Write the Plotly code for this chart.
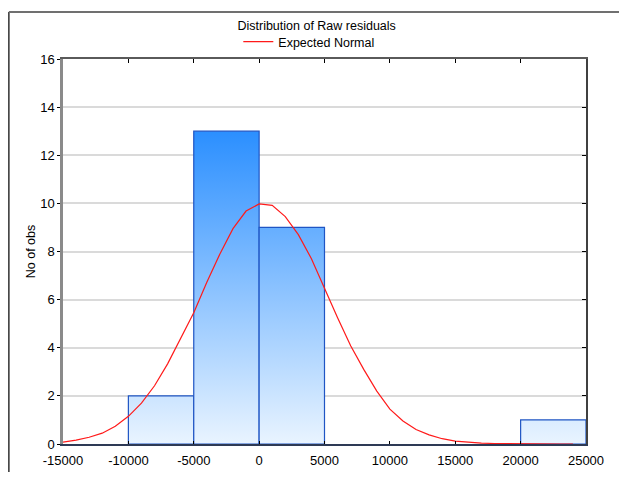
import plotly.graph_objects as go

# ---- data ----
bin_left = [-10000, -5000, 0, 5000, 10000, 15000, 20000]
bin_right = [-5000, 0, 5000, 10000, 15000, 20000, 25000]
counts = [2, 13, 9, 0, 0, 0, 1]

curve_x = [-15000, -14000, -13000, -12000, -11000, -10000, -9000, -8000, -7000, -6000,
           -5000, -4000, -3000, -2000, -1000, 0, 1000, 2000, 3000, 4000,
           5000, 6000, 7000, 8000, 9000, 10000, 11000, 12000, 13000, 14000,
           15000, 16000, 17000, 18000, 19000, 20000, 21000, 22000, 23000, 24000]
curve_y = [0.08, 0.16, 0.28, 0.45, 0.74, 1.15, 1.7, 2.42, 3.33, 4.38,
           5.45, 6.72, 7.9, 8.95, 9.68, 9.98, 9.92, 9.45, 8.7, 7.7,
           6.45, 5.25, 4.08, 3.1, 2.2, 1.45, 0.96, 0.6, 0.38, 0.22,
           0.12, 0.07, 0.04, 0.02, 0.01, 0.005, 0.002, 0.001, 0.0, 0.0]

x_ticks = [-15000, -10000, -5000, 0, 5000, 10000, 15000, 20000, 25000]
y_ticks = [0, 2, 4, 6, 8, 10, 12, 14, 16]

FONT = "Liberation Sans, Arial, sans-serif"

fig = go.Figure()

for l, r, c in zip(bin_left, bin_right, counts):
    if c <= 0:
        continue
    fig.add_trace(go.Scatter(
        x=[l, l, r, r, l], y=[0, c, c, 0, 0],
        mode="lines", fill="toself",
        fillgradient=dict(type="vertical",
                          colorscale=[[0, "#e9f4ff"], [1, "#2b8fff"]],
                          start=0, stop=13),
        line=dict(color="#1f55c4", width=1.2),
        showlegend=False, hoverinfo="skip",
    ))

fig.add_trace(go.Scatter(
    x=curve_x, y=curve_y, mode="lines", name="Expected Normal",
    line=dict(color="#ff1a1a", width=1.2),
))

# invisible trace to activate secondary axes
fig.add_trace(go.Scatter(x=[x_ticks[0]], y=[y_ticks[0]], xaxis="x2", yaxis="y2",
                         mode="markers", marker=dict(opacity=0), showlegend=False,
                         hoverinfo="skip"))

fig.update_layout(
    width=611, height=464,
    margin=dict(l=55, r=32.5, t=51, b=28, autoexpand=False),
    paper_bgcolor="white", plot_bgcolor="white",
    font=dict(family=FONT, size=12.5, color="black"),
    title=dict(text="Distribution of Raw residuals", x=0.485, xref="paper",
               xanchor="center", y=1 - 17.5 / 464, yref="container",
               yanchor="middle", font=dict(size=12.5, family=FONT, color="black")),
    legend=dict(orientation="h", x=0.47, xanchor="center", y=1.044,
                yanchor="middle", bgcolor="rgba(0,0,0,0)",
                font=dict(size=12.5, family=FONT), itemwidth=30),
    xaxis=dict(range=[-15000, 25000], tickvals=x_ticks,
               ticktext=[str(v) for v in x_ticks],
               ticks="inside", ticklen=3, tickcolor="black",
               showline=True, linecolor="#2e3a55", linewidth=2,
               showgrid=False, zeroline=False, ticklabelstandoff=3,
               tickfont=dict(size=13, family=FONT)),
    xaxis2=dict(range=[-15000, 25000], tickvals=x_ticks, overlaying="x",
                side="top", ticks="inside", ticklen=4, tickcolor="black",
                showticklabels=False, showline=True, linecolor="#5a5a5a",
                linewidth=2, showgrid=False, zeroline=False),
    yaxis=dict(range=[0, 16], tickvals=y_ticks, ticks="outside", ticklen=3,
               tickcolor="black", showline=True, linecolor="#8a8a8a", linewidth=2.5,
               showgrid=True, gridcolor="#dadada", gridwidth=1.5, zeroline=False,
               title=dict(text="No of obs", standoff=2, font=dict(size=12.5, family=FONT)),
               tickfont=dict(size=13, family=FONT)),
    yaxis2=dict(range=[0, 16], tickvals=y_ticks, overlaying="y", side="right",
                ticks="inside", ticklen=4, tickcolor="black", showticklabels=False,
                showline=True, linecolor="#404040", linewidth=1.5,
                showgrid=False, zeroline=False),
    shapes=[
        dict(type="line", xref="paper", yref="paper", x0=-0.1035, x1=-0.1035,
             y0=1.122, y1=-0.2, line=dict(color="#303030", width=1.5)),
        dict(type="line", xref="paper", yref="paper", x0=-0.1035, x1=1.15,
             y0=1.122, y1=1.122, line=dict(color="#707070", width=2)),
    ],
)

fig.write_html("out.html")
